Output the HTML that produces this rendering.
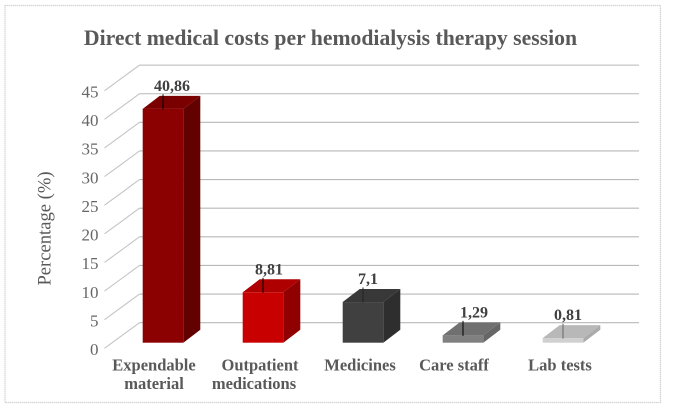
<!DOCTYPE html>
<html><head><meta charset="utf-8">
<style>
html,body{margin:0;padding:0;background:#fff;width:674px;height:409px;overflow:hidden}
svg{display:block;font-family:"Liberation Serif",serif}
</style></head>
<body>
<svg id="chart" width="674" height="409" viewBox="0 0 674 409" xmlns="http://www.w3.org/2000/svg">
<rect x="5" y="5.5" width="655.5" height="397" fill="#fff" stroke="#d4d4d4" stroke-width="1.2" stroke-dasharray="1.5 0.5"/>
<text x="330.5" y="45" text-anchor="middle" font-size="21.7" font-weight="bold" fill="#595959">Direct medical costs per hemodialysis therapy session</text>
<text transform="translate(50.5,228.5) rotate(-90)" text-anchor="middle" font-size="18.6" fill="#595959">Percentage (%)</text>
</svg>
<script>
const categories = [["Expendable","material"],["Outpatient","medications"],["Medicines"],["Care staff"],["Lab tests"]];
const values = [40.86,8.81,7.1,1.29,0.81];
const valueLabels = ["40,86","8,81","7,1","1,29","0,81"];
const yTicks = [0,5,10,15,20,25,30,35,40,45];

const barStyles = [
  {front:"#8b0000",side:"#630000",top:"#7a0000",leader:"#000",valDx:9,catDx:[-9,-9]},
  {front:"#c80000",side:"#900000",top:"#ae0000",leader:"#000",valDx:6,catDx:[-3,-9]},
  {front:"#404040",side:"#2e2e2e",top:"#383838",leader:"#222",valDx:5,catDx:[-3]},
  {front:"#808080",side:"#666666",top:"#707070",leader:"#000",valDx:11,catDx:[-9]},
  {front:"#d0d0d0",side:"#ababab",top:"#b8b8b8",leader:"#666",valDx:5,catDx:[-3]}
];
const svg = document.getElementById('chart');
const NS = 'http://www.w3.org/2000/svg';
const depthX = 17, depthY = 13;
const unitPx = 5.724;
const yScale = v => 342.7 - v * unitPx;          // front plane
const xScale = i => 163 + i * 100;               // bar centre
const barW = 40.6;
function make(tag, attrs, parent){
  const el = document.createElementNS(NS, tag);
  for (const k in attrs) el.setAttribute(k, attrs[k]);
  (parent || svg).appendChild(el);
  return el;
}
yTicks.forEach(function(t){
  const yb = 322.7 - t * unitPx;
  const grid = make('line',{x1:139.5,y1:yb,x2:639,y2:yb,stroke:'#b8b8b8','stroke-width':1.1});
  
  
  const diag = make('line',{x1:104.5,y1:yb+25.6,x2:139.5,y2:yb,stroke:'#c4c4c4','stroke-width':1.1});
  
  
  const lab = make('text',{x:98.5,y:yb+32.3,'text-anchor':'end','font-size':17,fill:'#666'});
  lab.textContent = t;
  
  
});
values.forEach(function(v,i){
  const c = xScale(i), x0 = c - barW/2, x1 = c + barW/2;
  const yt = yScale(v), yb = yScale(0);
  const s = barStyles[i];
  const g = make('g',{});
  
  
  make('polygon',{points:[x1,yt, x1+depthX,yt-depthY, x1+depthX,yb-depthY, x1,yb].join(' '),fill:s.side},g);
  make('polygon',{points:[x0,yt, x0+depthX,yt-depthY, x1+depthX,yt-depthY, x1,yt].join(' '),fill:s.top},g);
  make('rect',{x:x0,y:yt,width:barW,height:yb-yt,fill:s.front},g);
  const leader = make('line',{x1:c,y1:yt-depthY-1.5,x2:c,y2:yt+0.5,stroke:s.leader,'stroke-width':1});
  
  
  const vl = make('text',{x:c+s.valDx,y:yt-depthY-5,'text-anchor':'middle','font-size':16,'font-weight':'bold',fill:'#404040'});
  vl.textContent = valueLabels[i];
  
  
  categories[i].forEach(function(line,j){
    const cl = make('text',{x:c+s.catDx[j],y:370.5+j*18.5,'text-anchor':'middle','font-size':16.5,'font-weight':'bold',fill:'#595959'});
    cl.textContent = line;
    
    
  });
});
</script>
</body></html>
